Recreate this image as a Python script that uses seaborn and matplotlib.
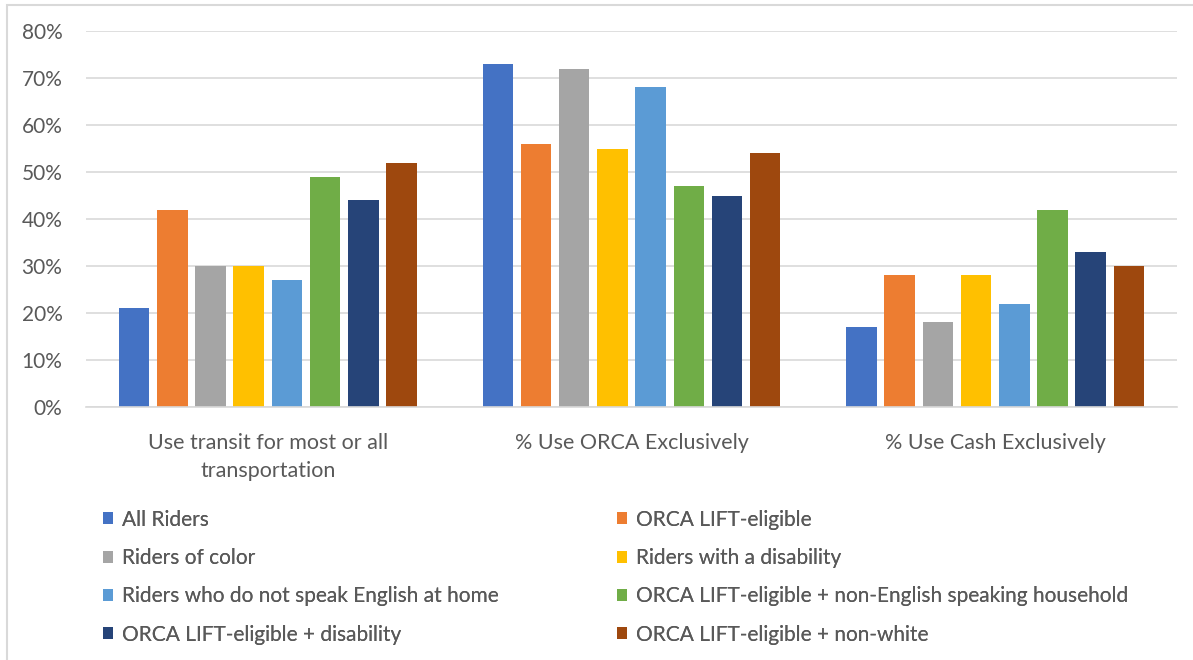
import pandas as pd
import seaborn as sns
import matplotlib.pyplot as plt
from matplotlib.patches import Rectangle
from matplotlib.ticker import PercentFormatter

# Chart data (percent of riders)
measures = ['Use transit for most or all\ntransportation',
            '% Use ORCA Exclusively',
            '% Use Cash Exclusively']
groups = ['All Riders', 'ORCA LIFT-eligible', 'Riders of color',
          'Riders with a disability', 'Riders who do not speak English at home',
          'ORCA LIFT-eligible + non-English speaking household',
          'ORCA LIFT-eligible + disability', 'ORCA LIFT-eligible + non-white']
transit_most = [21, 42, 30, 30, 27, 49, 44, 52]
orca_only = [73, 56, 72, 55, 68, 47, 45, 54]
cash_only = [17, 28, 18, 28, 22, 42, 33, 30]
colors = ['#4472C4', '#ED7D31', '#A5A5A5', '#FFC000',
          '#5B9BD5', '#70AD47', '#264478', '#9E480E']
yticks = [0, 10, 20, 30, 40, 50, 60, 70, 80]

rows = []
for m, vals in zip(measures, [transit_most, orca_only, cash_only]):
    for g, v in zip(groups, vals):
        rows.append({'Measure': m, 'Group': g, 'Value': v})
df = pd.DataFrame(rows)

sns.set_style('white')
plt.rcParams['font.family'] = ['Lato', 'DejaVu Sans']
text_col = '#595959'

fig = plt.figure(figsize=(11.93, 6.6), dpi=100)
ax = fig.add_axes([86 / 1193, 1 - 407 / 660, (1177 - 86) / 1193, (407 - 31) / 660])

sns.barplot(data=df, x='Measure', y='Value', hue='Group', hue_order=groups,
            palette=colors, width=0.84, gap=0.2, saturation=1,
            edgecolor='none', ax=ax)

ax.set_ylim(0, 80)
ax.set_yticks(yticks)
ax.yaxis.set_major_formatter(PercentFormatter(decimals=0))
ax.grid(axis='y', color='#d9d9d9', linewidth=1.2)
ax.set_axisbelow(True)
for s in ['top', 'right', 'left']:
    ax.spines[s].set_visible(False)
ax.spines['bottom'].set_color('#d9d9d9')
ax.spines['bottom'].set_linewidth(1.2)
ax.tick_params(axis='y', length=0, labelsize=15, colors=text_col, pad=17)
ax.tick_params(axis='x', length=0, labelsize=15.5, colors=text_col, pad=19)
for t in ax.get_xticklabels():
    t.set_linespacing(1.5)
ax.set_xlabel('')
ax.set_ylabel('')

# legend in two columns, built as two one-column legends
handles, labels = ax.get_legend_handles_labels()
ax.get_legend().remove()
for col, x0 in enumerate([84 / 1193, 598 / 1193]):
    leg = fig.legend(handles[col::2], labels[col::2], loc='upper left',
                     bbox_to_anchor=(x0, 1 - 491 / 660), frameon=False,
                     fontsize=15, handlelength=0.5, handleheight=0.5,
                     handletextpad=0.4, labelspacing=0.88, labelcolor=text_col)
    fig.add_artist(leg)

# chart area border
fig.add_artist(Rectangle((7 / 1193, -0.02), 1.0, 1 - 5 / 660 + 0.02,
                         transform=fig.transFigure, fill=False,
                         edgecolor='#d9d9d9', linewidth=1.5))

plt.savefig('out.png', dpi=100)
